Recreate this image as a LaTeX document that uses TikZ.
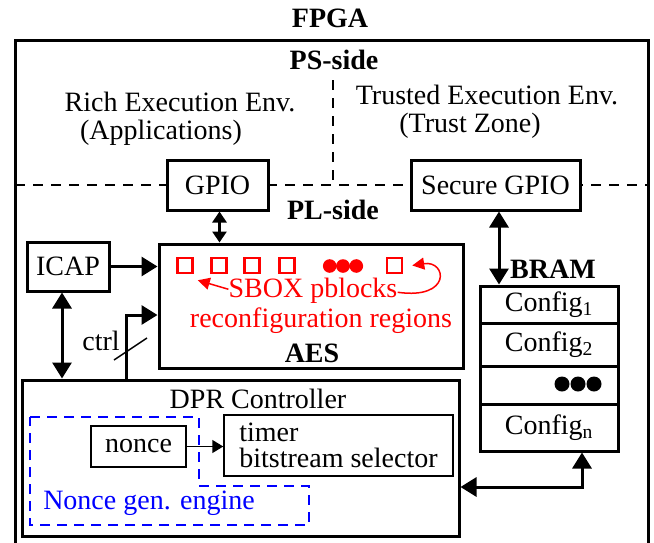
\documentclass[tikz,border=0pt]{standalone}
\usepackage{fontspec}
\setmainfont{Liberation Serif}
\usetikzlibrary{arrows.meta}
\begin{document}
\begin{tikzpicture}[x=1pt,y=-1pt,
  every node/.style={font=\fontsize{28}{30}\selectfont, inner sep=0pt},
  blk/.style={draw, line width=3pt, fill=white},
  thinbox/.style={draw, line width=1.5pt, fill=white},
  boldtxt/.style={font=\fontsize{28}{30}\selectfont\bfseries},
  sq/.style={draw=red, line width=2.5pt, minimum size=15pt},
  big/.style={line width=3pt, -{Triangle[length=16pt,width=19pt]}},
  dbl/.style={line width=3pt, {Triangle[length=16pt,width=19pt]}-{Triangle[length=16pt,width=19pt]}},
  dblsmall/.style={line width=3pt, {Triangle[length=11pt,width=14pt]}-{Triangle[length=11pt,width=14pt]}},
  smallarrow/.style={line width=1.5pt, -{Triangle[length=11pt,width=13pt]}},
  redarrow/.style={draw=red, line width=1.5pt, -{Triangle[length=12pt,width=12pt]}, red},
  dashline/.style={line width=2.5pt, dash pattern=on 10pt off 8pt},
  bluedash/.style={draw=blue, line width=2.5pt, dash pattern=on 10pt off 7pt}
]
\useasboundingbox (0,0) rectangle (654,542);
% outer FPGA box
\node[boldtxt, anchor=base] (fpga) at (330,27) {FPGA};
\draw[line width=3pt] (15,550) -- (15,40) -- (648,40) -- (648,550);
\node[boldtxt, anchor=base] (ps) at (334,69) {PS-side};
\draw[dashline] (333,80) -- (333,185);
\draw[dashline] (15,185) -- (648,185);
\node[anchor=base] (ree) at (180,111) {Rich Execution Env.};
\node[anchor=base] (app) at (161,139) {(Applications)};
\node[anchor=base] (tee) at (487,104) {Trusted Execution Env.};
\node[anchor=base] (tz) at (470,132) {(Trust Zone)};
\node[blk, minimum width=101pt, minimum height=50pt] (gpio) at (217.5,185) {GPIO};
\node[blk, minimum width=169pt, minimum height=50pt] (sgpio) at (495.5,185) {Secure GPIO};
\node[boldtxt, anchor=base] (pl) at (333,219) {PL-side};
% ICAP and AES
\node[blk, minimum width=82pt, minimum height=49pt] (icap) at (68,266.5) {ICAP};
\node[blk, minimum width=304pt, minimum height=124pt] (aes) at (311,306) {};
\node[boldtxt, anchor=base] (aeslbl) at (312,362) {AES};
\node[sq] (s1) at (185,265.5) {};
\node[sq] (s2) at (219,265.5) {};
\node[sq] (s3) at (252,265.5) {};
\node[sq] (s4) at (287,265.5) {};
\node[sq] (s6) at (394.5,265.5) {};
\fill[red] (329.7,266) circle (6.8pt) (343,266) circle (6.8pt) (356.3,266) circle (6.8pt);
\node[anchor=base, text=red] (sbox) at (313,297) {SBOX pblocks};
\node[anchor=base, text=red] (recon) at (321,327) {reconfiguration regions};
\draw[redarrow] ([yshift=1pt]sbox.west) -- ([shift={(4,6)}]s1.south east);
\draw[redarrow] ([yshift=-2pt]sbox.east) .. controls (452,300) and (447,260) .. ([xshift=9pt]s6.east);
% BRAM
\node[boldtxt, anchor=base] (bram) at (553,278) {BRAM};
\node[blk, minimum width=138pt, minimum height=37pt] (c1) at (549,304.5) {Config\textsubscript{1}};
\node[blk, minimum width=138pt, minimum height=43pt] (c2) at (549,344.5) {Config\textsubscript{2}};
\node[blk, minimum width=138pt, minimum height=38pt] (cd) at (549,385) {};
\node[blk, minimum width=138pt, minimum height=47pt] (cn) at (549,427.5) {Config\textsubscript{n}};
\fill (562,384) circle (7.5pt) (578,384) circle (7.5pt) (594,384) circle (7.5pt);
% DPR controller
\node[blk, minimum width=437pt, minimum height=156pt] (dpr) at (240.5,458) {};
\node[anchor=base] (dprl) at (258,408) {DPR Controller};
\draw[bluedash] (30,417) -- (199,417) -- (199,486) -- (309,486) -- (309,525) -- (30,525) -- cycle;
\node[thinbox, minimum width=95pt, minimum height=41pt] (nonce) at (138.5,446.5) {nonce};
\node[thinbox, minimum width=229pt, minimum height=61pt, align=left, font=\fontsize{28}{26}\selectfont] (timer) at (338.5,445.5) {timer\\bitstream selector};
\draw[smallarrow] (nonce.east) -- (timer.west |- nonce.east);
\node[anchor=base, text=blue] (nge) at (149,509) {Nonce gen. engine};
% connectors
\draw[dblsmall] ([xshift=2pt]gpio.south) -- ([xshift=2pt]gpio.south |- aes.north);
\draw[dbl] ([xshift=3.5pt]sgpio.south) -- ([xshift=3.5pt]sgpio.south |- c1.north);
\draw[big] (icap.east) -- (icap.east -| aes.west);
\draw[dbl] ([xshift=-6pt]icap.south) -- ([xshift=-6pt]icap.south |- dpr.north);
\draw[big] ([xshift=106pt]dpr.north west) |- ([yshift=-9pt]aes.west);
\draw[line width=1.5pt] (114,360) -- (147,338);
\node[anchor=base] (ctrl) at (101,350) {ctrl};
\draw[dbl] ([xshift=33pt]cn.south) |- ([yshift=-29pt]dpr.east);
\end{tikzpicture}
\end{document}
